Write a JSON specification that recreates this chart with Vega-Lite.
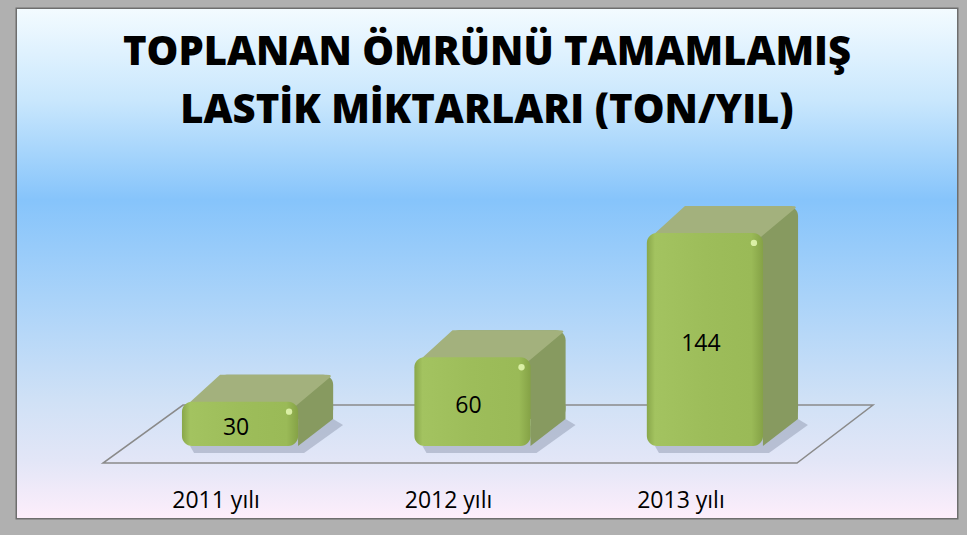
{
  "$schema": "https://vega.github.io/schema/vega-lite/v6.json",
  "width": 967,
  "height": 535,
  "autosize": {"type": "fit", "contains": "padding"},
  "padding": {"left": 17, "top": 9, "right": 10, "bottom": 17},
  "background": "#b0b0b0",
  "title": {
    "text": ["TOPLANAN ÖMRÜNÜ TAMAMLAMIŞ", "LASTİK MİKTARLARI (TON/YIL)"],
    "font": "Open Sans",
    "fontSize": 40,
    "fontWeight": 800,
    "color": "#000000",
    "lineHeight": 58,
    "baseline": "top",
    "offset": -24,
    "dy": 98,
    "anchor": "middle",
    "zindex": 1
  },
  "config": {
    "view": {"stroke": "#6e6e6e", "strokeWidth": 3}
  },
  "data": {
    "values": [
      {"yil": "2011 yılı", "ton": 30},
      {"yil": "2012 yılı", "ton": 60},
      {"yil": "2013 yılı", "ton": 144}
    ]
  },
  "resolve": {"scale": {"y": "independent"}},
  "layer": [
    {
      "data": {"values": [{}]},
      "mark": {
        "type": "rect",
        "color": {
          "gradient": "linear",
          "x1": 0, "y1": 0, "x2": 0, "y2": 1,
          "stops": [
            {"offset": 0, "color": "#f3fbff"},
            {"offset": 0.18, "color": "#c9e7fd"},
            {"offset": 0.375, "color": "#86c4fb"},
            {"offset": 0.57, "color": "#aad3f9"},
            {"offset": 0.77, "color": "#d0e1f6"},
            {"offset": 0.89, "color": "#e3e6f7"},
            {"offset": 1, "color": "#fdeefb"}
          ]
        }
      },
      "encoding": {}
    },
    {
      "data": {"values": [{}]},
      "mark": {
        "type": "point",
        "shape": "M -1 0.0753 L 0.8026 0.0753 L 1 -0.0753 L -0.7922 -0.0753 Z",
        "size": 592900,
        "filled": false,
        "stroke": "#8a8a8a",
        "strokeWidth": 1.5,
        "opacity": 1,
        "xOffset": 1,
        "yOffset": -12
      },
      "encoding": {
        "y": {"datum": 0, "type": "quantitative", "scale": {"domain": [-48.6, 295.3], "nice": false, "zero": false}, "axis": null}
      }
    },
    {
      "mark": {"type": "point", "shape": "M -0.5 0 L -0.46 0.07 L 0.64 0.07 L 1.03 -0.21 L 0.93 -0.27 Z", "size": 40000, "filled": true, "color": "#98a0b6", "opacity": 0.55},
      "encoding": {
        "x": {"field": "yil", "type": "nominal", "title": null, "sort": null, "scale": {"range": [-21, 932], "paddingInner": 0.5, "paddingOuter": 0.8},
              "axis": {"domain": false, "ticks": false, "tickSize": 0, "grid": false, "labelAngle": 0, "labelFont": "Open Sans", "labelFontSize": 23, "labelColor": "#000000", "labelPadding": 1, "offset": -30, "labelOffset": -24, "zindex": 1}},
        "y": {"datum": 0, "type": "quantitative", "scale": {"domain": [-48.6, 295.3], "nice": false, "zero": false}, "axis": null}
      }
    },
    {
      "mark": {"type": "bar", "color": "#879a60", "cornerRadius": 10, "xOffset": 35, "x2Offset": 35, "yOffset": -27, "y2Offset": -27},
      "encoding": {
        "x": {"field": "yil", "type": "nominal", "title": null, "sort": null, "scale": {"range": [-21, 932], "paddingInner": 0.5, "paddingOuter": 0.8},
              "axis": {"domain": false, "ticks": false, "tickSize": 0, "grid": false, "labelAngle": 0, "labelFont": "Open Sans", "labelFontSize": 23, "labelColor": "#000000", "labelPadding": 1, "offset": -30, "labelOffset": -24, "zindex": 1}},
        "y": {"field": "ton", "type": "quantitative", "scale": {"domain": [-48.6, 295.3], "nice": false, "zero": false}, "axis": null},
        "y2": {"datum": 0}
      }
    },
    {
      "mark": {"type": "point", "shape": "M 0.58 0 L 0.58 -0.4 L 0.93 -0.4 L 0.93 -0.27 Z", "size": 40000, "filled": true, "color": "#879a60", "opacity": 1},
      "encoding": {
        "x": {"field": "yil", "type": "nominal", "title": null, "sort": null, "scale": {"range": [-21, 932], "paddingInner": 0.5, "paddingOuter": 0.8},
              "axis": {"domain": false, "ticks": false, "tickSize": 0, "grid": false, "labelAngle": 0, "labelFont": "Open Sans", "labelFontSize": 23, "labelColor": "#000000", "labelPadding": 1, "offset": -30, "labelOffset": -24, "zindex": 1}},
        "y": {"datum": 0, "type": "quantitative", "scale": {"domain": [-48.6, 295.3], "nice": false, "zero": false}, "axis": null}
      }
    },
    {
      "mark": {"type": "point", "shape": "M -0.54 0.04 L 0.56 0.04 L 0.9 -0.245 Q 0.93 -0.27 0.86 -0.27 L -0.2 -0.27 Z", "size": 40000, "filled": true, "color": "#a3b17d", "opacity": 1},
      "encoding": {
        "x": {"field": "yil", "type": "nominal", "title": null, "sort": null, "scale": {"range": [-21, 932], "paddingInner": 0.5, "paddingOuter": 0.8},
              "axis": {"domain": false, "ticks": false, "tickSize": 0, "grid": false, "labelAngle": 0, "labelFont": "Open Sans", "labelFontSize": 23, "labelColor": "#000000", "labelPadding": 1, "offset": -30, "labelOffset": -24, "zindex": 1}},
        "y": {"field": "ton", "type": "quantitative", "scale": {"domain": [-48.6, 295.3], "nice": false, "zero": false}, "axis": null}
      }
    },
    {
      "mark": {
        "type": "bar",
        "cornerRadius": 10,
        "color": {
          "gradient": "linear",
          "x1": 0, "y1": 0, "x2": 1, "y2": 0,
          "stops": [
            {"offset": 0, "color": "#89a74a"},
            {"offset": 0.07, "color": "#a3c360"},
            {"offset": 0.5, "color": "#9dbd5a"},
            {"offset": 0.9, "color": "#9aba57"},
            {"offset": 1, "color": "#85a246"}
          ]
        }
      },
      "encoding": {
        "x": {"field": "yil", "type": "nominal", "title": null, "sort": null, "scale": {"range": [-21, 932], "paddingInner": 0.5, "paddingOuter": 0.8},
              "axis": {"domain": false, "ticks": false, "tickSize": 0, "grid": false, "labelAngle": 0, "labelFont": "Open Sans", "labelFontSize": 23, "labelColor": "#000000", "labelPadding": 1, "offset": -30, "labelOffset": -24, "zindex": 1}},
        "y": {"field": "ton", "type": "quantitative", "scale": {"domain": [-48.6, 295.3], "nice": false, "zero": false}, "axis": null},
        "y2": {"datum": 0}
      }
    },
    {
      "mark": {"type": "point", "shape": "circle", "size": 40, "filled": true, "color": "#e6f9b4", "opacity": 0.85, "xOffset": 49, "yOffset": 10},
      "encoding": {
        "x": {"field": "yil", "type": "nominal", "title": null, "sort": null, "scale": {"range": [-21, 932], "paddingInner": 0.5, "paddingOuter": 0.8},
              "axis": {"domain": false, "ticks": false, "tickSize": 0, "grid": false, "labelAngle": 0, "labelFont": "Open Sans", "labelFontSize": 23, "labelColor": "#000000", "labelPadding": 1, "offset": -30, "labelOffset": -24, "zindex": 1}},
        "y": {"field": "ton", "type": "quantitative", "scale": {"domain": [-48.6, 295.3], "nice": false, "zero": false}, "axis": null}
      }
    },
    {
      "mark": {"type": "text", "font": "Open Sans", "fontSize": 23, "color": "#000000", "baseline": "middle", "xOffset": -4, "yOffset": 4},
      "encoding": {
        "x": {"field": "yil", "type": "nominal", "title": null, "sort": null, "scale": {"range": [-21, 932], "paddingInner": 0.5, "paddingOuter": 0.8},
              "axis": {"domain": false, "ticks": false, "tickSize": 0, "grid": false, "labelAngle": 0, "labelFont": "Open Sans", "labelFontSize": 23, "labelColor": "#000000", "labelPadding": 1, "offset": -30, "labelOffset": -24, "zindex": 1}},
        "y": {"field": "ton", "type": "quantitative", "scale": {"domain": [-97.2, 590.6], "nice": false, "zero": false}, "axis": null},
        "text": {"field": "ton", "type": "quantitative"}
      }
    }
  ]
}
